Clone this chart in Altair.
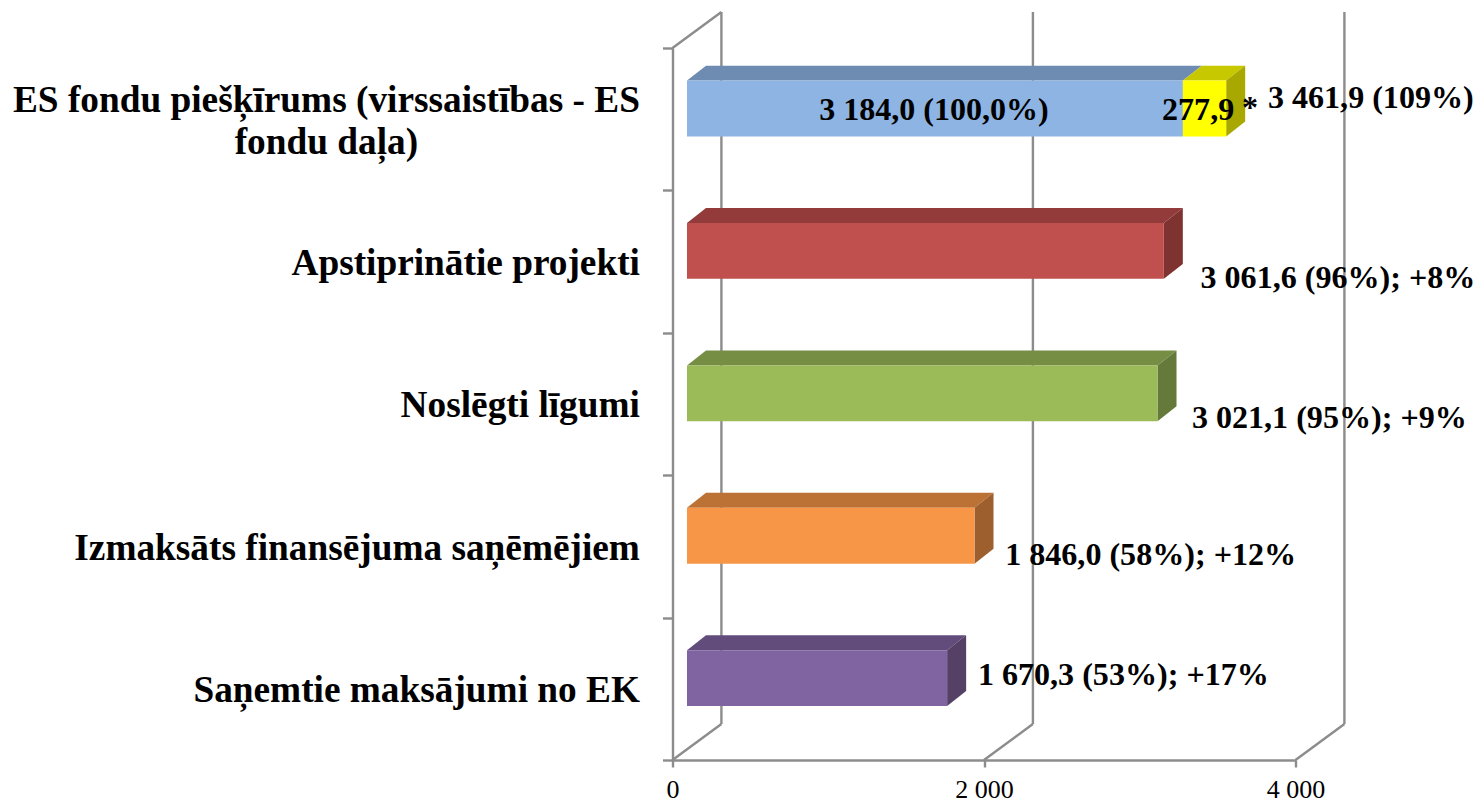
import altair as alt
import pandas as pd

categories = ["Saņemtie maksājumi no EK", "Izmaksāts finansējuma saņēmējiem", "Noslēgti līgumi", "Apstiprinātie projekti"]
top_category = "ES fondu piešķīrums (virssaistības - ES\nfondu daļa)"
values = [1670.3, 1846.0, 3021.1, 3061.6, 3184.0]
extra_value = 277.9
front_colors = ["#8064A2", "#F79646", "#9BBB59", "#C0504D", "#8DB4E3"]
top_colors = ["#624C7C", "#BC7235", "#768E44", "#933A3A", "#6E8CB2"]
side_colors = ["#544165", "#9C5F2D", "#657A3A", "#7E3330", "#5D7797"]
extra_colors = ("#FFFF00", "#C8C800", "#A8A800")
val_text = ["1 670,3 (53%); +17%", "1 846,0 (58%); +12%", "3 021,1 (95%); +9%", "3 061,6 (96%); +8%", "3 461,9 (109%)"]
val_x = [1961, 2136, 3335, 3390, 3823]
val_y = [0.595, 1.442, 2.404, 3.387, 4.651]
cat_y = [0.485, 1.485, 2.485, 3.485]
ticks_x = [0, 2000, 4000]
ticks_y = [0, 1, 2, 3, 4, 5]

BASE, DX, DY = 93, 122, 0.105
WALL_DX, WALL_DY = 314, 0.2525
LOW, HIGH = 0.379, 0.771
GRAY = "#8C8C8C"
FONT = "Liberation Serif"

fronts, tops, sides = [], [], []
def add_bar(i, a, b, cols, seg, with_side=True):
    lo, hi = i + LOW, i + HIGH
    fronts.append(dict(x=a, x2=b, y=lo, y2=hi, c=cols[0]))
    tops.append(dict(seg=seg, y=hi, x=a, x2=b, c=cols[1]))
    tops.append(dict(seg=seg, y=hi + DY, x=a + DX, x2=b + DX, c=cols[1]))
    if with_side:
        sides.append(dict(seg=seg, x=b, y=lo, y2=hi, c=cols[2]))
        sides.append(dict(seg=seg, x=b + DX, y=lo + DY, y2=hi + DY, c=cols[2]))

for i, v in enumerate(values):
    add_bar(i, BASE, BASE + v, (front_colors[i], top_colors[i], side_colors[i]), f"s{i}", with_side=i < 4)
add_bar(4, BASE + values[4], BASE + values[4] + extra_value, extra_colors, "extra")

x_scale = alt.Scale(domain=[0, 4000], nice=False, zero=False)
y_scale = alt.Scale(domain=[0, 5], nice=False, zero=False)
X = alt.X("x:Q", scale=x_scale, title=None,
          axis=alt.Axis(values=ticks_x, grid=False, domainColor=GRAY, domainWidth=2.4, tickColor=GRAY, tickWidth=2.4, tickSize=7,
                        labelFont=FONT, labelFontSize=26, labelColor="#000", labelPadding=9,
                        labelFontWeight="normal", labelFlush=False, labelOverlap=False,
                        labelExpr="replace(format(datum.value, ','), ',', ' ')"))
Y = alt.Y("y:Q", scale=y_scale, title=None,
          axis=alt.Axis(values=ticks_y, grid=False, labels=False, domainColor=GRAY, domainWidth=2.4, tickColor=GRAY, tickWidth=2.4, tickSize=10))
C = alt.Color("c:N", scale=None, legend=None)

walls = pd.DataFrame(
    [dict(x=t, x2=t + WALL_DX, y=0, y2=WALL_DY) for t in ticks_x]
    + [dict(x=t + WALL_DX, x2=t + WALL_DX, y=WALL_DY, y2=5 + WALL_DY) for t in ticks_x]
    + [dict(x=0, x2=WALL_DX, y=5, y2=5 + WALL_DY)]
)
wall = alt.Chart(walls).mark_rule(color=GRAY, strokeWidth=2.4).encode(x=X, x2="x2:Q", y=Y, y2="y2:Q")

front = alt.Chart(pd.DataFrame(fronts)).mark_rect().encode(x=X, x2="x2:Q", y=Y, y2="y2:Q", color=C)
top = alt.Chart(pd.DataFrame(tops)).mark_area(orient="horizontal").encode(x=X, x2="x2:Q", y=Y, color=C, detail="seg:N")
side = alt.Chart(pd.DataFrame(sides)).mark_area(orient="vertical").encode(x=X, y=Y, y2="y2:Q", color=C, detail="seg:N")

cat_df = pd.DataFrame(dict(t=categories, x=-209, y=cat_y))
cat = alt.Chart(cat_df).mark_text(font=FONT, fontWeight="bold", fontSize=37.3, align="right", baseline="middle", color="#000").encode(x=X, y=Y, text="t:N")
cat_top = alt.Chart(pd.DataFrame(dict(t=[top_category], x=[-2222], y=[4.626]))).mark_text(
    font=FONT, fontWeight="bold", fontSize=37.3, align="center", baseline="middle", color="#000", lineBreak="\n", lineHeight=42
).encode(x=X, y=Y, text="t:N")

val_df = pd.DataFrame(dict(t=val_text + ["277,9"], x=val_x + [3143], y=val_y + [4.567]))
vals = alt.Chart(val_df).mark_text(font=FONT, fontWeight="bold", fontSize=32.1, align="left", baseline="middle", color="#000").encode(x=X, y=Y, text="t:N")
inner = alt.Chart(pd.DataFrame(dict(t=["3 184,0 (100,0%)"], x=[1679], y=[4.567]))).mark_text(
    font=FONT, fontWeight="bold", fontSize=32, align="center", baseline="middle", color="#000").encode(x=X, y=Y, text="t:N")
star = alt.Chart(pd.DataFrame(dict(t=["*"], x=[3708], y=[4.578]))).mark_text(
    font=FONT, fontWeight="bold", fontSize=32, align="center", baseline="middle", color="#000").encode(x=X, y=Y, text="t:N")

chart = alt.layer(wall, top, side, front, cat, cat_top, vals, inner, star).properties(
    width=623, height=712, autosize=alt.AutoSizeParams(type="none"),
    padding={"left": 664.5, "top": 40, "right": 180.5, "bottom": 42},
).configure_view(stroke=None)

chart.save("out.html", embed_options={"renderer": "svg", "actions": False})
